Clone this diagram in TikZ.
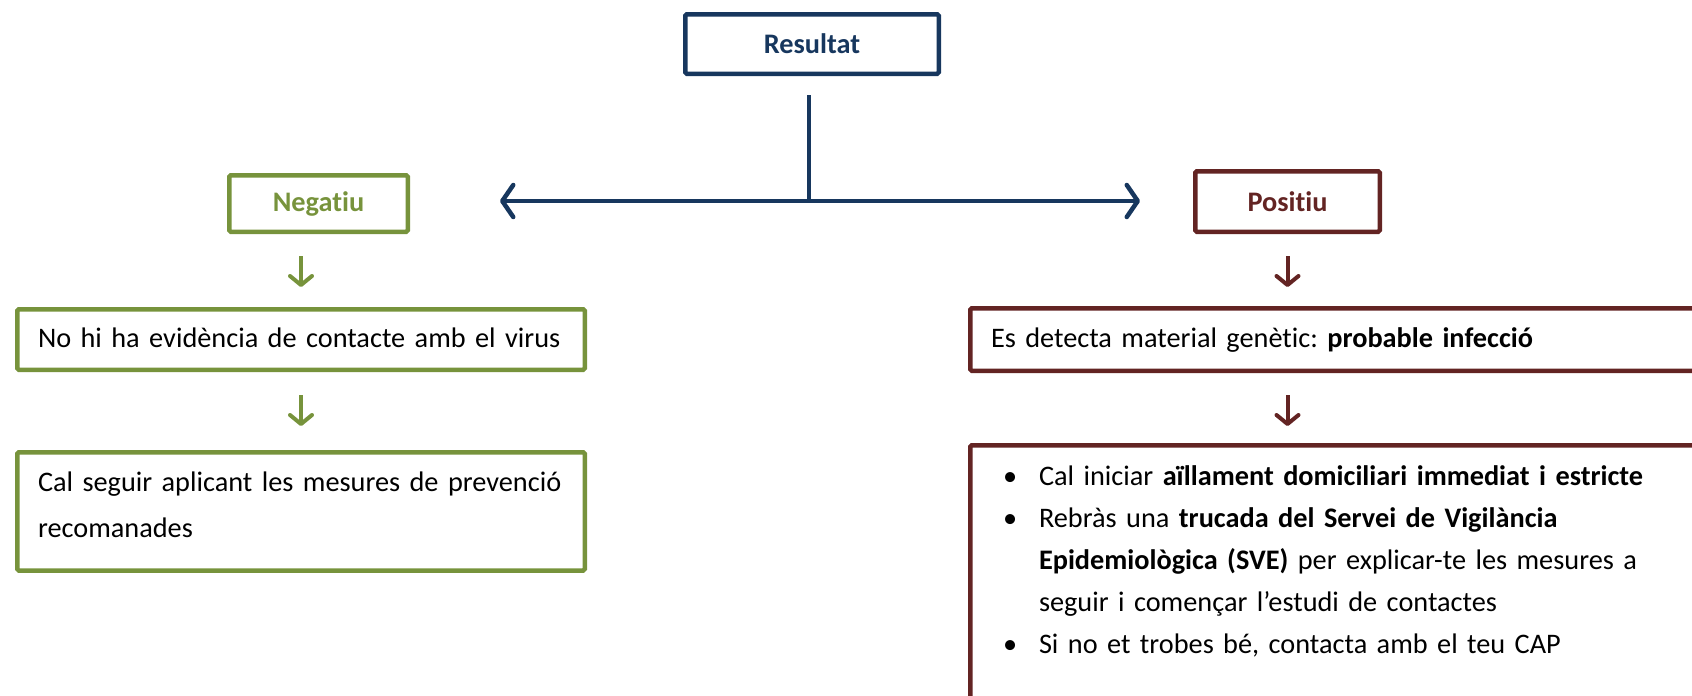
\documentclass[tikz,border=0pt]{standalone}
\usepackage{fontspec}
\setmainfont{Carlito}[Ligatures=NoCommon]
\usetikzlibrary{arrows.meta}

\definecolor{navy}{HTML}{17375E}
\definecolor{olive}{HTML}{77933C}
\definecolor{wine}{HTML}{632423}

\frenchspacing

\tikzset{
	box/.style={draw, line width=4.5pt, rounded corners=1.5pt, inner sep=0pt,
		font=\fontsize{28.3}{34}\selectfont},
	labelbox/.style={box, font=\fontsize{28.3}{34}\selectfont\bfseries},
	textbox/.style={box, anchor=north west, align=left, text=black,
		inner xsep=20.75pt, text width=#1},
	link/.style={line width=4.5pt},
	godown/.style={line width=4pt, -{Straight Barb[length=9pt,width=22pt,round]}}
}

\begin{document}
\begin{tikzpicture}[x=1pt,y=1pt]

\def\picW{1692}
\def\picH{696}
\def\clrtop{navy}
\def\clrneg{olive}
\def\clrpos{wine}
\def\tipbig{Straight Barb[length=11pt,width=32pt,round]}

\path[use as bounding box] (0,0) rectangle (\picW,-\picH);
\clip (0,0) rectangle (\picW,-\picH);

\begin{scope}[\clrtop]
	\node[labelbox, minimum width=253.5pt, minimum height=59.5pt] (res) at (812,-44) {Resultat};
	\coordinate (split) at (809,-201);
\end{scope}

\begin{scope}[\clrneg]
	\node[labelbox, minimum width=178.5pt, minimum height=56.5pt] (neg) at (318.5,-203.5) {Negatiu};
	\node[textbox=526pt, text height=37.75pt, text depth=22.75pt] (nohi) at (15,-307)
		{No hi ha evidència de contacte amb el virus};
	\node[textbox=526pt, text height=38.75pt, text depth=79.5pt,
		font=\fontsize{28.3}{46}\selectfont] (cal) at (15,-450)
		{\mbox{Cal seguir aplicant les mesures de prevenció}\\recomanades};
	\draw[godown, shorten <=22pt, shorten >=20pt] (nohi.north |- neg.south) -- (nohi.north);
	\draw[godown, shorten <=23pt, shorten >=24pt] (nohi.south) -- (cal.north);
\end{scope}

\begin{scope}[\clrpos]
	\node[labelbox, minimum width=184.5pt, minimum height=60.5pt] (pos) at (1287.5,-201.5) {Positiu};
	\node[textbox=740pt, text height=38.75pt, text depth=23.75pt] (es) at (968,-306)
		{Es detecta material genètic: \textbf{probable infecció}};
	\node[textbox=740pt, text height=39.75pt, text depth=280pt,
		font=\fontsize{28.3}{42}\selectfont] (bul) at (968,-443)
		{\hangindent=48pt\hangafter=1\makebox[48pt][l]{\hspace{12pt}\textbullet}%
		Cal iniciar \textbf{aïllament domiciliari immediat i estricte}\par
		\hangindent=48pt\hangafter=1\makebox[48pt][l]{\hspace{12pt}\textbullet}%
		\mbox{Rebràs una \textbf{trucada del Servei de Vigilància}}\newline
		\mbox{\textbf{Epidemiològica (SVE)} per explicar-te les mesures a}\newline
		\mbox{seguir i començar l’estudi de contactes}\par
		\hangindent=48pt\hangafter=1\makebox[48pt][l]{\hspace{12pt}\textbullet}%
		Si no et trobes bé, contacta amb el teu CAP};
	\draw[godown, shorten <=22pt, shorten >=19pt] (pos.south) -- (pos.south |- es.north);
	\draw[godown, shorten <=22pt, shorten >=17pt] (pos.south |- es.south) -- (pos.south |- bul.north);
\end{scope}

\draw[link, \clrtop, shorten <=19pt] (split |- res.south) -- (split);
\draw[link, \clrtop, {\tipbig}-{\tipbig}, shorten <=90pt, shorten >=53pt]
	(neg.east |- split) -- (pos.west |- split);

\end{tikzpicture}
\end{document}
